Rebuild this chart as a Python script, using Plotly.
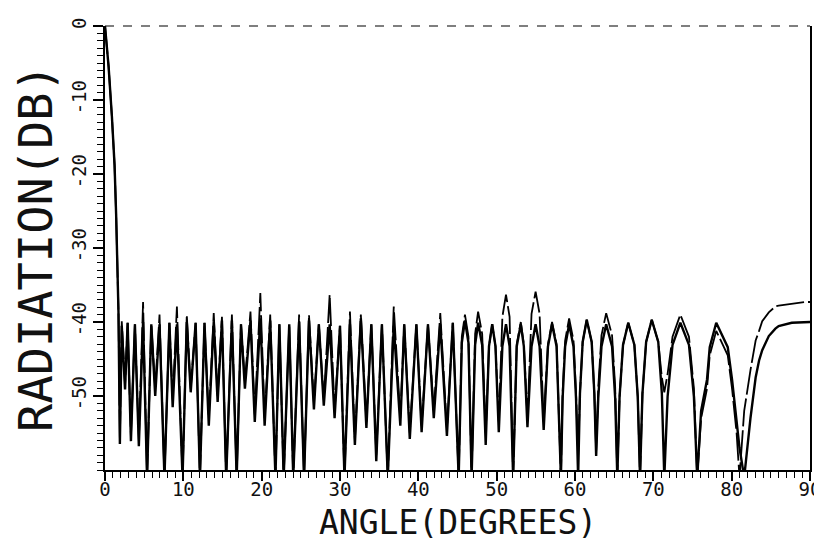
import plotly.graph_objects as go

# Angle (degrees)
angle = [
    0.0, 0.46, 0.88, 1.22, 1.42, 1.6, 1.72, 1.9, 2.14, 2.56, 2.89, 3.31, 3.82, 4.32, 4.86,
    5.37, 5.91, 6.41, 6.96, 7.59, 8.22, 8.64, 9.18, 9.9, 10.44, 10.94, 11.57, 12.12, 12.7,
    13.25, 13.88, 14.38, 14.93, 15.47, 16.2, 16.81, 17.36, 17.86, 18.57, 19.12, 19.83,
    20.38, 21.09, 21.76, 22.26, 22.81, 23.52, 24.03, 24.78, 25.41, 26.04, 26.67, 27.3,
    27.93, 28.68, 29.31, 30.0, 30.57, 31.27, 31.9, 32.66, 33.37, 34.0, 34.63, 35.35, 36.1,
    36.86, 37.7, 38.2, 38.91, 39.75, 40.42, 41.23, 41.97, 42.8, 43.65, 44.4, 45.15,
    45.55, 45.95, 46.4, 46.8, 47.25, 47.63, 48.15, 48.6, 49.02, 49.43, 49.85, 50.27,
    50.73, 51.19, 51.65, 52.1, 52.56, 53.08, 53.47, 53.93, 54.45, 54.97, 55.48, 56.0,
    56.55, 57.07, 57.65, 58.2,
    58.42, 58.74, 59.25, 59.81, 60.13, 60.4, 60.63, 60.98, 61.5, 62.13, 62.47, 62.7,
    62.97, 63.38, 63.98, 64.73, 65.13, 65.4, 65.69, 66.13, 66.8, 67.58, 68.01, 68.3,
    68.61, 69.08, 69.8, 70.63, 71.09, 71.4, 71.82, 72.45, 73.45, 74.55, 75.18, 75.6,
    76.1, 76.85, 77.2, 78.03, 79.5, 80.05, 80.63, 81.0, 81.6, 82.4, 83.06, 83.5, 83.9,
    84.74, 85.58, 86.0, 87.67, 89.35, 90.0,
]

# Radiation (dB), solid curve
db_solid = [
    0, -5.5, -12.2, -18.8, -25.4, -33.0, -38.6, -56.5, -40.5, -49.1, -40.1, -56.1, -40.3, -56.8, -40.0,
    -61, -40.3, -50.0, -40.3, -61, -40.1, -51.5, -40.3, -61, -40.0, -49.5, -40.1, -61, -40.1,
    -54.0, -40.0, -50.8, -39.8, -61, -39.8, -61, -40.3, -49.0, -39.8, -53.5, -39.5,
    -54.0, -39.8, -61, -40.3, -61, -40.3, -61, -40.0, -61, -39.8, -51.8, -40.3,
    -51.3, -40.3, -53.0, -40.5, -61, -40.3, -56.6, -39.5, -54.3, -40.3, -58.8, -40.3, -61,
    -40.5, -54.0, -40.3, -55.8, -40.3, -54.9, -40.3, -53.0, -40.3, -55.4, -40.1, -61,
    -42.8, -39.8, -42.8, -61, -43.1, -40.1, -43.1, -56.6, -43.3, -40.3, -43.3, -54.9,
    -43.3, -40.3, -43.3, -61, -43.3, -40.3, -43.3, -54.2, -43.3, -40.3, -43.3, -54.6,
    -43.3, -40.3, -43.3, -61,
    -50.3, -43.3, -40.3, -43.3, -50.3, -61, -49.7, -42.7, -39.7, -42.7, -49.7, -58.1,
    -50.3, -43.3, -40.3, -43.3, -50.3, -61, -50.1, -43.1, -40.1, -43.1, -50.1, -61,
    -49.7, -42.7, -39.7, -42.7, -49.7, -61, -50.1, -43.1, -40.1, -43.1, -50.1, -61,
    -52.0, -47.8, -43.4, -40.1, -43.4, -47.8, -54.0, -57.0, -61, -53.0, -47.5, -45.2, -43.8,
    -41.9, -40.9, -40.56, -40.1, -40.0, -40.0,
]

# Radiation (dB), dashed curve
db_dashed = [
    0, -5.5, -12.2, -18.8, -25.4, -33.0, -38.6, -56.0, -39.9, -48.5, -40.1, -55.5, -40.3, -56.0, -37.3,
    -61, -40.3, -49.0, -39.0, -61, -40.1, -50.5, -37.9, -61, -39.0, -49.0, -40.1, -61, -40.1,
    -53.0, -38.8, -50.0, -39.3, -61, -39.0, -61, -40.3, -48.0, -38.6, -52.5, -36.1,
    -53.0, -39.0, -61, -40.3, -61, -40.3, -61, -39.0, -61, -39.0, -51.0, -40.3,
    -50.5, -36.3, -52.0, -40.5, -61, -38.6, -56.0, -39.0, -53.5, -40.3, -58.0, -40.3, -61,
    -37.9, -53.0, -40.3, -55.0, -40.3, -54.0, -40.3, -52.0, -38.8, -54.5, -40.1, -61,
    -42.0, -39.0, -42.0, -61, -41.6, -38.6, -41.6, -55.0, -43.3, -40.3, -43.3, -53.5,
    -39.3, -36.3, -39.3, -61, -43.0, -40.0, -43.0, -53.0, -38.9, -35.9, -38.9, -53.5,
    -43.0, -40.0, -43.0, -61,
    -49.5, -42.5, -39.5, -42.5, -49.5, -58.0, -49.7, -42.7, -39.7, -42.7, -49.7, -57.5,
    -48.8, -41.8, -38.8, -41.8, -48.8, -61, -50.1, -43.1, -40.1, -43.1, -50.1, -61,
    -49.7, -42.7, -39.7, -42.7, -47.5, -49.5, -47.0, -42.0, -39.0, -42.0, -49.0, -61,
    -53.0, -49.0, -44.5, -41.2, -44.5, -49.0, -55.0, -61, -52.0, -46.5, -42.5, -41.2, -39.9,
    -38.7, -37.9, -37.8, -37.5, -37.3, -37.3,
]

x_ticks = [0, 10, 20, 30, 40, 50, 60, 70, 80, 90]
x_labels = ["0", "10", "20", "30", "40", "50", "60", "70", "80", "90"]
y_ticks = [0, -10, -20, -30, -40, -50]
y_labels = ["0", "-10", "-20", "-30", "-40", "-50"]

FONT = "DejaVu Sans Mono"

fig = go.Figure()
fig.add_trace(go.Scatter(x=angle, y=db_dashed, mode="lines",
                         line=dict(color="black", width=1.8, dash="28px,4px")))
fig.add_trace(go.Scatter(x=angle, y=db_solid, mode="lines",
                         line=dict(color="black", width=2.4)))

fig.update_layout(
    width=822, height=544,
    margin=dict(l=97, r=10, t=9, b=82),
    paper_bgcolor="white", plot_bgcolor="white",
    showlegend=False,
    font=dict(family=FONT, color="#111"),
)
fig.update_xaxes(
    range=[0, 90], tickmode="array", tickvals=x_ticks, ticktext=x_labels,
    ticks="outside", ticklen=9, tickwidth=1.5, tickcolor="black",
    minor=dict(tickmode="linear", tick0=0, dtick=1, ticks="outside", ticklen=6,
               tickwidth=1, tickcolor="black"),
    showline=True, linecolor="black", linewidth=1.5,
    showgrid=False, zeroline=False,
    ticklabeloverflow="allow",
    ticklabelstandoff=-8,
    tickfont=dict(family=FONT, size=19),
)
fig.update_yaxes(
    range=[-60, 0], tickmode="array", tickvals=y_ticks, ticktext=y_labels,
    tickangle=-90,
    ticks="outside", ticklen=10, tickwidth=1.5, tickcolor="black",
    minor=dict(tickmode="linear", tick0=0, dtick=1, ticks="outside", ticklen=6,
               tickwidth=1, tickcolor="black"),
    showline=True, mirror=True, linecolor="black", linewidth=1.5,
    showgrid=False, zeroline=False,
    tickfont=dict(family=FONT, size=19),
    title=dict(text="RADIATION(DB)", font=dict(family=FONT, size=47), standoff=2),
)
fig.add_shape(type="line", xref="paper", yref="paper", x0=0, x1=1, y0=1, y1=1,
              line=dict(color="black", width=1.2, dash="dash"))
fig.add_annotation(text="ANGLE(DEGREES)", xref="paper", yref="paper", x=0.5, y=0,
                   xanchor="center", yanchor="top", yshift=-32, showarrow=False,
                   borderpad=0,
                   font=dict(family=FONT, size=33, color="#111"))

fig.write_html("out.html")
